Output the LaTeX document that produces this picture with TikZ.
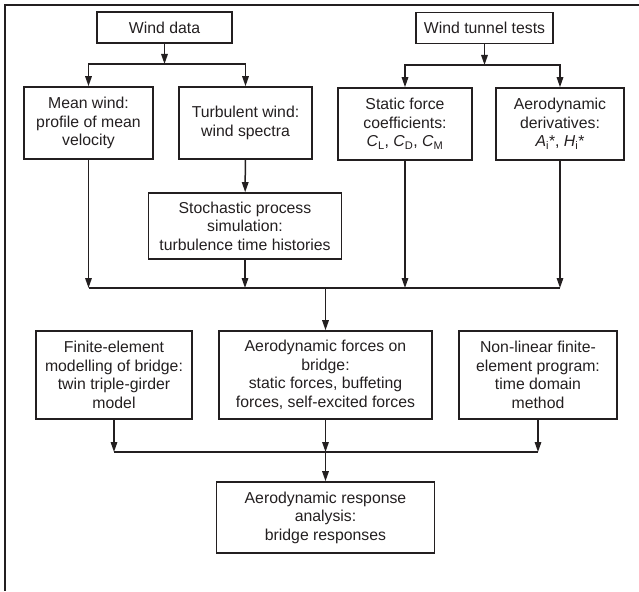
\documentclass[tikz,border=0pt]{standalone}
\usepackage{fontspec}
\setmainfont{Liberation Sans}
\usetikzlibrary{arrows.meta,positioning}
\definecolor{inkDark}{RGB}{35,31,32}

\begin{document}
\begin{tikzpicture}[x=1pt,y=-1pt,
  box/.style={rectangle,draw=inkDark,line width=1.6pt,align=center,inner sep=2pt,
              text=inkDark,font=\fontsize{15.8}{18.5}\selectfont},
  topbox/.style={box,minimum height=31pt},
  midbox/.style={box,minimum height=72pt},
  lowbox/.style={box,minimum height=88pt},
  arrow/.style={-{Triangle[length=10pt,width=6.5pt]},line width=1.5pt,draw=inkDark},
  link/.style={line width=1.5pt,draw=inkDark},
  frame/.style={line width=2.4pt,draw=inkDark}
]
  \useasboundingbox (0,0) rectangle (639,591);
  \draw[frame] (639,5) -- (5,5) -- (5,591);

  % sources
  \node[topbox,minimum width=135pt](wdata) at (164.5,27.5) {Wind data};
  \node[topbox,minimum width=137pt](wtunnel) at (484.5,28) {Wind tunnel tests};

  % inputs
  \node[midbox,minimum width=129pt](mean) at (88.5,123) {Mean wind:\\profile of mean\\velocity};
  \node[midbox,minimum width=133pt](turb) at (245.5,123) {Turbulent wind:\\wind spectra};
  \node[midbox,minimum width=134pt](static) at (405,124) {Static force\\coefficients:\\\textit{C}\textsubscript{L}, \textit{C}\textsubscript{D}, \textit{C}\textsubscript{M}};
  \node[midbox,minimum width=128pt](deriv) at (560,124) {Aerodynamic\\derivatives:\\\textit{A}\textsubscript{i}*, \textit{H}\textsubscript{i}*};
  \node[box,minimum width=193pt,minimum height=66pt](stoch) at (245,226) {Stochastic process\\simulation:\\turbulence time histories};

  % analysis
  \node[lowbox,minimum width=156pt](fe) at (114,375) {Finite-element\\modelling of bridge:\\twin triple-girder\\model};
  \node[lowbox,minimum width=213pt](forces) at (325.5,375) {Aerodynamic forces on\\bridge:\\static forces, buffeting\\forces, self-excited forces};
  \node[lowbox,minimum width=158pt](nonlin) at (538,375) {Non-linear finite-\\element program:\\time domain\\method};
  \node[box,minimum width=218pt,minimum height=71pt](resp) at (325.5,517.5) {Aerodynamic response\\analysis:\\bridge responses};

  \coordinate (b1) at (0,64);
  \coordinate (b2) at (0,65);
  \coordinate (m1) at (0,288);
  \coordinate (m2) at (0,452);

  \draw[arrow](wdata) -- (wdata |- b1);
  \draw[arrow](wdata |- b1) -| (mean);
  \draw[arrow](wdata |- b1) -| (turb);
  \draw[arrow](wtunnel) -- (wtunnel |- b2);
  \draw[arrow](wtunnel |- b2) -| (static);
  \draw[arrow](wtunnel |- b2) -| (deriv);
  \draw[arrow](turb) -- (stoch);

  \draw[arrow](mean) -- (mean |- m1);
  \draw[arrow](stoch) -- (stoch |- m1);
  \draw[arrow](static) -- (static |- m1);
  \draw[arrow](deriv) -- (deriv |- m1);
  \draw[link](mean |- m1) -- (deriv |- m1);
  \draw[arrow](forces |- m1) -- (forces);

  \draw[arrow](fe) -- (fe |- m2);
  \draw[arrow](forces) -- (forces |- m2);
  \draw[arrow](nonlin) -- (nonlin |- m2);
  \draw[link](fe |- m2) -- (nonlin |- m2);
  \draw[arrow](forces |- m2) -- (resp);
\end{tikzpicture}
\end{document}
